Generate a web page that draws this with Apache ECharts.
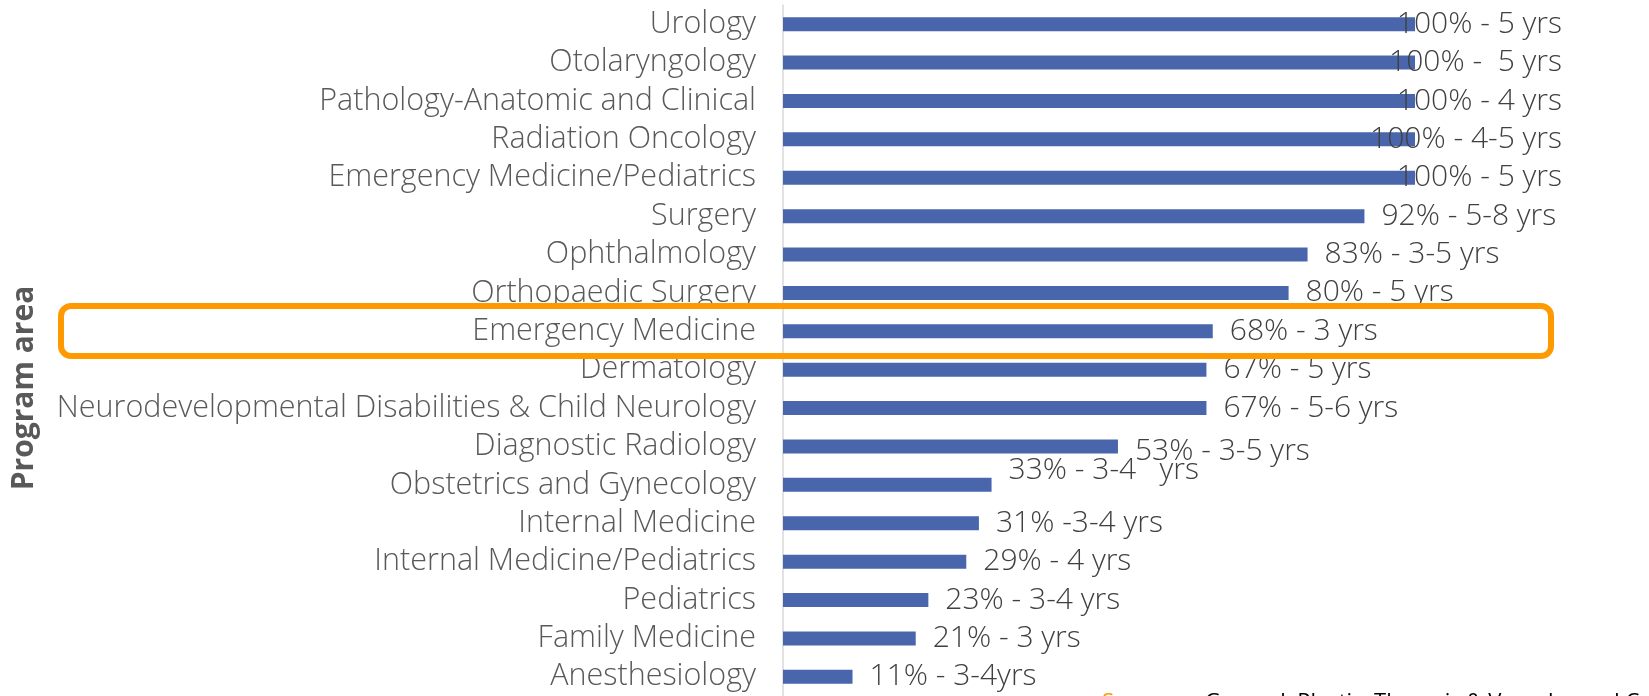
<!DOCTYPE html>
<html>
<head>
<meta charset="utf-8">
<script src="https://cdn.jsdelivr.net/npm/echarts@6/dist/echarts.min.js"></script>
<style>
html,body{margin:0;padding:0;background:#fff;}
#chart{width:1649px;height:696px;}
</style>
</head>
<body>
<div id="chart"></div>
<script>
const categories = [
  "Urology",
  "Otolaryngology",
  "Pathology-Anatomic and Clinical",
  "Radiation Oncology",
  "Emergency Medicine/Pediatrics",
  "Surgery",
  "Ophthalmology",
  "Orthopaedic Surgery",
  "Emergency Medicine",
  "Dermatology",
  "Neurodevelopmental Disabilities & Child Neurology",
  "Diagnostic Radiology",
  "Obstetrics and Gynecology",
  "Internal Medicine",
  "Internal Medicine/Pediatrics",
  "Pediatrics",
  "Family Medicine",
  "Anesthesiology"
];
const values = [100, 100, 100, 100, 100, 92, 83, 80, 68, 67, 67, 53, 33, 31, 29, 23, 21, 11];
const labels = [
  "100% - 5 yrs",
  "100% -  5 yrs",
  "100% - 4 yrs",
  "100% - 4-5 yrs",
  "100% - 5 yrs",
  "92% - 5-8 yrs",
  "83% - 3-5 yrs",
  "80% - 5 yrs",
  "68% - 3 yrs",
  "67% - 5 yrs",
  "67% - 5-6 yrs",
  "53% - 3-5 yrs",
  "33% - 3-4   yrs",
  "31% -3-4 yrs",
  "29% - 4 yrs",
  "23% - 3-4 yrs",
  "21% - 3 yrs",
  "11% - 3-4yrs"
];

const FONT = "'Open Sans', 'Noto Sans', sans-serif";
const chart = echarts.init(document.getElementById('chart'), null, {renderer: 'canvas'});

// label placement tweaks (visual only)
const labelTweak = {
  "Obstetrics and Gynecology": {offset: [0, -14]},
  "Diagnostic Radiology": {offset: [0, 5]}
};

const seriesData = values.map((v, i) => {
  const item = {value: v};
  if (v >= 100) {
    item.label = {align: 'right', distance: 147};
  } else if (labelTweak[categories[i]]) {
    item.label = labelTweak[categories[i]];
  }
  return item;
});

chart.setOption({
  animation: false,
  grid: {left: 783, top: 5, width: 632, height: 699, containLabel: false},
  xAxis: {
    type: 'value', min: 0, max: 100, show: false
  },
  yAxis: {
    type: 'category',
    inverse: true,
    data: categories,
    axisLine: {show: true, lineStyle: {color: '#D9D9D9', width: 1.5}},
    axisTick: {show: false},
    axisLabel: {
      interval: 0,
      hideOverlap: false,
      padding: [5, 0, 0, 0],
      margin: 27, color: '#595959', fontSize: 30.5, fontFamily: FONT, fontWeight: 300
    },
    splitLine: {show: false}
  },
  series: [{
    type: 'bar',
    data: seriesData,
    barWidth: 14,
    itemStyle: {color: '#4966AC'},
    label: {
      show: true,
      position: 'right',
      distance: 17,
      padding: [5, 0, 0, 0],
      color: '#404040',
      fontSize: 30,
      fontFamily: FONT,
      fontWeight: 300,
      formatter: p => labels[p.dataIndex]
    }
  }],
  graphic: [
    {
      type: 'rect',
      z: 100,
      shape: {x: 61, y: 306, width: 1490, height: 50, r: 10},
      style: {fill: 'none', stroke: '#FF9900', lineWidth: 6}
    },
    {
      type: 'text',
      z: 100,
      x: 24, y: 388,
      rotation: Math.PI / 2,
      style: {
        text: 'Program area',
        fill: '#595959',
        font: "bold 30px 'Open Sans', sans-serif",
        align: 'center',
        verticalAlign: 'middle'
      }
    },
    {
      type: 'text',
      z: 100,
      x: 1102, y: 692,
      style: {
        text: '{o|Surgery} {k|= General, Plastic, Thoracic & Vascular and Cardiac}',
        font: "22px 'Open Sans', sans-serif",
        verticalAlign: 'top',
        rich: {
          o: {fill: '#FF9900', font: "22px 'Open Sans', sans-serif"},
          k: {fill: '#000000', font: "22px 'Open Sans', sans-serif"}
        }
      }
    }
  ]
});
</script>
</body>
</html>
